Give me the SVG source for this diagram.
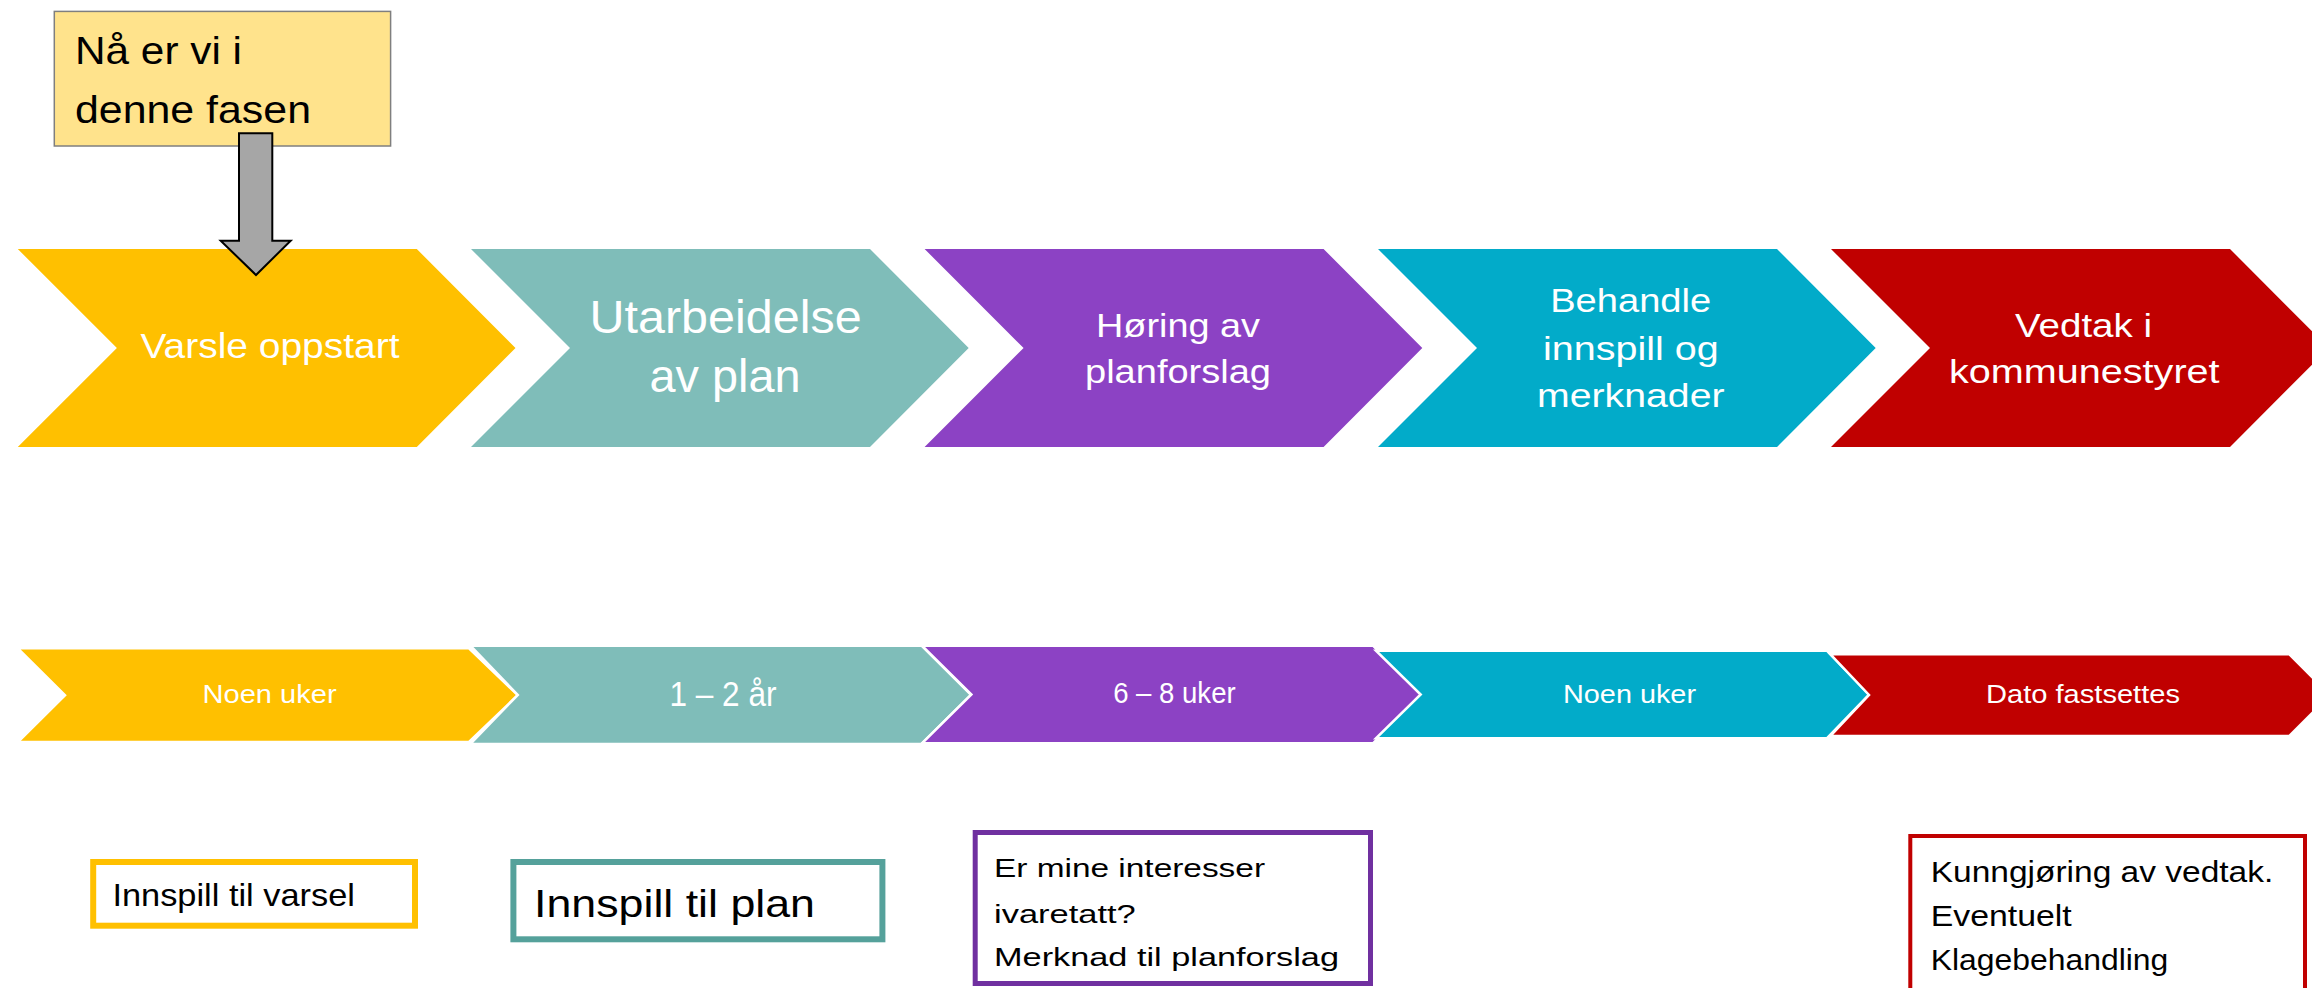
<svg xmlns="http://www.w3.org/2000/svg" width="2312" height="988" viewBox="0 0 2312 988">
<style>
text{font-family:"Liberation Sans",Arial,sans-serif}
.w{fill:#ffffff}
.k{fill:#000000}
.m{text-anchor:middle}
.s2{stroke:#ffffff;stroke-width:2.5}
.y{fill:#FFC000}
.t{fill:#7FBDB9}
.p{fill:#8C42C4}
.c{fill:#02ABC9}
.r{fill:#C00000}
.box{fill:#ffffff}
</style>
<rect width="2312" height="988" fill="#ffffff"/>

<g id="phase-varsle">
<polygon class="y" points="17.8,249 416.8,249 515.5,348 416.8,447 17.8,447 116.9,348"/>
<text class="w m" x="270" y="358" font-size="35" textLength="259" lengthAdjust="spacingAndGlyphs">Varsle oppstart</text>
</g>
<g id="phase-utarbeidelse">
<polygon class="t" points="471,249 870,249 968.7,348 870,447 471,447 570,348"/>
<text class="w m" x="725.6" y="333" font-size="46" textLength="272" lengthAdjust="spacingAndGlyphs">Utarbeidelse</text>
<text class="w m" x="725" y="392" font-size="46" textLength="151" lengthAdjust="spacingAndGlyphs">av plan</text>
</g>
<g id="phase-horing">
<polygon class="p" points="924.6,249 1323.6,249 1422.3,348 1323.6,447 924.6,447 1023.6,348"/>
<text class="w m" x="1178" y="336.7" font-size="34" textLength="164" lengthAdjust="spacingAndGlyphs">Høring av</text>
<text class="w m" x="1178" y="383" font-size="34" textLength="186" lengthAdjust="spacingAndGlyphs">planforslag</text>
</g>
<g id="phase-behandle">
<polygon class="c" points="1378,249 1777,249 1875.7,348 1777,447 1378,447 1477,348"/>
<text class="w m" x="1630.7" y="311.7" font-size="34" textLength="161" lengthAdjust="spacingAndGlyphs">Behandle</text>
<text class="w m" x="1630.8" y="360" font-size="34" textLength="175.6" lengthAdjust="spacingAndGlyphs">innspill og</text>
<text class="w m" x="1630.8" y="406.7" font-size="34" textLength="187.5" lengthAdjust="spacingAndGlyphs">merknader</text>
</g>
<g id="phase-vedtak">
<polygon class="r" points="1831,249 2230,249 2328.7,348 2230,447 1831,447 1930,348"/>
<text class="w m" x="2083.5" y="336.7" font-size="34" textLength="137" lengthAdjust="spacingAndGlyphs">Vedtak i</text>
<text class="w m" x="2084.3" y="383.3" font-size="34" textLength="270.6" lengthAdjust="spacingAndGlyphs">kommunestyret</text>
</g>

<g id="time-varsle">
<polygon class="y s2" points="17.8,648.3 469,648.3 517.8,695.2 469,742 17.8,742 65,695.2"/>
<text class="w m" x="269.6" y="703.3" font-size="26" textLength="134" lengthAdjust="spacingAndGlyphs">Noen uker</text>
</g>
<g id="time-utarbeidelse">
<polygon class="t s2" points="470.4,645.7 921.6,645.7 971,694.9 921.6,744 470.4,744 517.8,694.9"/>
<text class="w m" x="723" y="706" font-size="35" textLength="107" lengthAdjust="spacingAndGlyphs">1 – 2 år</text>
</g>
<g id="time-horing">
<polygon class="p s2" points="922,645.7 1373,645.7 1420.7,694.5 1373,743.3 922,743.3 971.4,694.5"/>
<text class="w m" x="1174.4" y="703.3" font-size="29" textLength="122.5" lengthAdjust="spacingAndGlyphs">6 – 8 uker</text>
</g>
<g id="time-behandle">
<polygon class="c s2" points="1376,650.7 1826.8,650.7 1869,694.5 1826.8,738.3 1376,738.3 1420.7,694.5"/>
<text class="w m" x="1629.5" y="703.3" font-size="26" textLength="133" lengthAdjust="spacingAndGlyphs">Noen uker</text>
</g>
<g id="time-vedtak">
<polygon class="r s2" points="1830.5,654.3 2289.4,654.3 2330,695 2289.4,736 1830.5,736 1869,695"/>
<text class="w m" x="2083" y="703.3" font-size="26" textLength="194" lengthAdjust="spacingAndGlyphs">Dato fastsettes</text>
</g>

<g id="note-fase">
<rect x="54.3" y="11.4" width="336.3" height="134.6" fill="#FFE38C" stroke="#7F7F7F" stroke-width="1.5"/>
<text class="k" x="75" y="64" font-size="39" textLength="167" lengthAdjust="spacingAndGlyphs">Nå er vi i</text>
<text class="k" x="75" y="122.7" font-size="39" textLength="236" lengthAdjust="spacingAndGlyphs">denne fasen</text>
</g>

<g id="box-varsel">
<rect class="box" x="93.2" y="862" width="321.8" height="63.7" stroke="#FFC000" stroke-width="6"/>
<text class="k" x="112.4" y="906" font-size="32" textLength="242.6" lengthAdjust="spacingAndGlyphs">Innspill til varsel</text>
</g>
<g id="box-plan">
<rect class="box" x="513.4" y="862" width="369" height="77.3" stroke="#55A19B" stroke-width="6"/>
<text class="k" x="534" y="916.7" font-size="39" textLength="281" lengthAdjust="spacingAndGlyphs">Innspill til plan</text>
</g>
<g id="box-horing">
<rect class="box" x="975.2" y="832.5" width="395.3" height="151" stroke="#7030A0" stroke-width="5"/>
<text class="k" x="994" y="877.3" font-size="26.5" textLength="271" lengthAdjust="spacingAndGlyphs">Er mine interesser</text>
<text class="k" x="994" y="922.7" font-size="26.5" textLength="141.7" lengthAdjust="spacingAndGlyphs">ivaretatt?</text>
<text class="k" x="994" y="966" font-size="26.5" textLength="345" lengthAdjust="spacingAndGlyphs">Merknad til planforslag</text>
</g>
<g id="box-vedtak">
<rect class="box" x="1910.3" y="836" width="394.7" height="170" stroke="#C00000" stroke-width="4"/>
<text class="k" x="1930.7" y="881.7" font-size="29" textLength="342.6" lengthAdjust="spacingAndGlyphs">Kunngjøring av vedtak.</text>
<text class="k" x="1930.7" y="926" font-size="29" textLength="141" lengthAdjust="spacingAndGlyphs">Eventuelt</text>
<text class="k" x="1930.7" y="970" font-size="29" textLength="237.6" lengthAdjust="spacingAndGlyphs">Klagebehandling</text>
</g>

<g id="connectors">
<polygon points="239,133.3 272.3,133.3 272.3,240.7 290.7,240.7 256,275 220.7,240.7 239,240.7" fill="#A6A6A6" stroke="#000000" stroke-width="2" stroke-linejoin="miter"/>
</g>
</svg>
